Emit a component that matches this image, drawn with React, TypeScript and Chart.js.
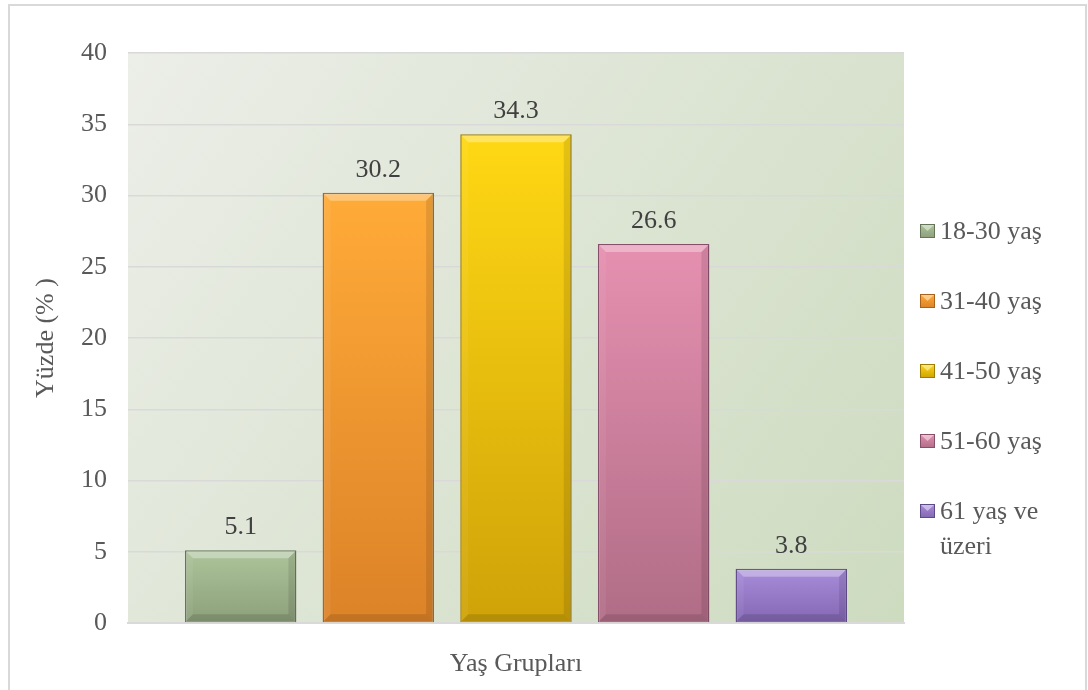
import React, { useEffect, useRef } from "react";
import { Chart, registerables } from "chart.js";

Chart.register(...registerables);

// ---- data ----
const categories = [""];
const seriesNames = ["18-30 yaş", "31-40 yaş", "41-50 yaş", "51-60 yaş", "61 yaş ve üzeri"];
const seriesValues = [5.1, 30.2, 34.3, 26.6, 3.8];
const legendLines = [["18-30 yaş"], ["31-40 yaş"], ["41-50 yaş"], ["51-60 yaş"], ["61 yaş ve", "üzeri"]];
const yMin = 0;
const yMax = 40;
const yStep = 5;
const yAxisTitle = "Yüzde (% )";
const xAxisTitle = "Yaş Grupları";

// ---- styles ----
const topColors = ["#adc59b", "#ffab38", "#ffd814", "#e690b0", "#a88dda"];
const bottomColors = ["#8c9f7a", "#dc8228", "#cfa208", "#b06d86", "#8467b3"];
const borderColors = ["#65755a", "#a8621d", "#9e7d06", "#86506a", "#5e4a86"];
const FONT = "'Liberation Serif', 'Times New Roman', serif";

const plotBg = {
  id: "plotBg",
  beforeDraw(chart: any) {
    const { ctx, chartArea: a } = chart;
    if (!a) return;
    const g = ctx.createLinearGradient(a.left, a.top, a.right, a.bottom);
    g.addColorStop(0, "#eceee8");
    g.addColorStop(1, "#cddbbf");
    ctx.save();
    ctx.fillStyle = g;
    ctx.fillRect(a.left, a.top, a.width, a.height);
    ctx.restore();
  },
};

const bevelAndLabels = {
  id: "bevelAndLabels",
  afterDatasetsDraw(chart: any) {
    const { ctx } = chart;
    ctx.save();
    chart.data.datasets.forEach((ds: any, i: number) => {
      const meta = chart.getDatasetMeta(i);
      const el = meta.data[0];
      if (!el) return;
      const { x, y, base, width } = el.getProps(["x", "y", "base", "width"], true);
      const l = x - width / 2;
      const r = x + width / 2;
      const t = y;
      const b = base;
      const bv = 8;
      // top bevel
      ctx.beginPath();
      ctx.moveTo(l + 1, t + 1);
      ctx.lineTo(r - 1, t + 1);
      ctx.lineTo(r - bv, t + bv);
      ctx.lineTo(l + bv, t + bv);
      ctx.closePath();
      ctx.fillStyle = "rgba(255,255,255,0.32)";
      ctx.fill();
      // left bevel
      ctx.beginPath();
      ctx.moveTo(l + 1, t + 1);
      ctx.lineTo(l + bv, t + bv);
      ctx.lineTo(l + bv, b - bv);
      ctx.lineTo(l + 1, b - 1);
      ctx.closePath();
      ctx.fillStyle = "rgba(255,255,255,0.06)";
      ctx.fill();
      // right bevel
      ctx.beginPath();
      ctx.moveTo(r - 1, t + 1);
      ctx.lineTo(r - bv, t + bv);
      ctx.lineTo(r - bv, b - bv);
      ctx.lineTo(r - 1, b - 1);
      ctx.closePath();
      ctx.fillStyle = "rgba(0,0,0,0.1)";
      ctx.fill();
      // bottom bevel
      ctx.beginPath();
      ctx.moveTo(l + 1, b - 1);
      ctx.lineTo(r - 1, b - 1);
      ctx.lineTo(r - bv, b - bv);
      ctx.lineTo(l + bv, b - bv);
      ctx.closePath();
      ctx.fillStyle = "rgba(0,0,0,0.12)";
      ctx.fill();
      // value label
      ctx.fillStyle = "#404040";
      ctx.font = `26px ${FONT}`;
      ctx.textAlign = "center";
      ctx.textBaseline = "alphabetic";
      ctx.fillText(Number(ds.data[0]).toFixed(1), x, t - 16);
    });
    ctx.restore();
  },
};

const sideLegend = {
  id: "sideLegend",
  afterDraw(chart: any) {
    const { ctx, chartArea: a } = chart;
    ctx.save();
    const x0 = a.right + 16;
    let baseY = a.top + 186;
    legendLines.forEach((lines, i) => {
      const bx = x0;
      const by = baseY - 15;
      const bw = 15;
      const bh = 14;
      const g = ctx.createLinearGradient(0, by, 0, by + bh);
      g.addColorStop(0, topColors[i]);
      g.addColorStop(1, bottomColors[i]);
      ctx.fillStyle = g;
      ctx.fillRect(bx, by, bw, bh);
      ctx.beginPath();
      ctx.moveTo(bx + 1, by + 1);
      ctx.lineTo(bx + bw - 1, by + 1);
      ctx.lineTo(bx + bw / 2, by + bh / 2);
      ctx.closePath();
      ctx.fillStyle = "rgba(255,255,255,0.45)";
      ctx.fill();
      ctx.strokeStyle = borderColors[i];
      ctx.lineWidth = 1;
      ctx.strokeRect(bx + 0.5, by + 0.5, bw - 1, bh - 1);
      ctx.fillStyle = "#595959";
      ctx.font = `26px ${FONT}`;
      ctx.textAlign = "left";
      ctx.textBaseline = "alphabetic";
      lines.forEach((ln, k) => {
        ctx.fillText(ln, x0 + 20, baseY + k * 35);
      });
      baseY += 70;
    });
    ctx.restore();
  },
};

export default function App() {
  const ref = useRef<HTMLCanvasElement | null>(null);

  useEffect(() => {
    if (!ref.current) return;
    const gradFor = (i: number) => (context: any) => {
      const chart = context.chart;
      const ys = chart.scales && chart.scales.y;
      if (!ys || !chart.chartArea) return topColors[i];
      const top = ys.getPixelForValue(seriesValues[i]);
      const bot = ys.getPixelForValue(0);
      const g = chart.ctx.createLinearGradient(0, top, 0, bot);
      g.addColorStop(0, topColors[i]);
      g.addColorStop(1, bottomColors[i]);
      return g;
    };
    const chart = new Chart(ref.current, {
      type: "bar",
      data: {
        labels: categories,
        datasets: seriesNames.map((name, i) => ({
          label: name,
          data: [seriesValues[i]],
          backgroundColor: gradFor(i),
          borderColor: borderColors[i],
          borderWidth: 1.5,
          categoryPercentage: 0.887,
          barPercentage: 0.81,
        })),
      },
      options: {
        responsive: false,
        animation: false,
        devicePixelRatio: 1,
        layout: { padding: { top: 53, right: 184, left: 0, bottom: 0 } },
        plugins: {
          legend: { display: false },
          tooltip: { enabled: false },
          title: { display: false },
        },
        scales: {
          x: {
            grid: { display: false },
            border: { display: true, color: "#d9d9d9", width: 2 },
            ticks: { display: false },
            title: {
              display: true,
              text: xAxisTitle,
              color: "#595959",
              font: { family: FONT, size: 26 },
              padding: { top: 0, bottom: 10 },
            },
            afterFit: (s: any) => {
              s.height = 67;
            },
          },
          y: {
            min: yMin,
            max: yMax,
            ticks: {
              stepSize: yStep,
              color: "#595959",
              font: { family: FONT, size: 26 },
              padding: 21,
            },
            grid: { color: "#d9d9d9", lineWidth: 1.5, drawTicks: false },
            border: { display: false },
            title: {
              display: true,
              text: yAxisTitle,
              color: "#595959",
              font: { family: FONT, size: 26 },
              padding: { top: 31, bottom: 0 },
            },
            afterFit: (s: any) => {
              s.width = 128;
            },
          },
        },
      },
      plugins: [plotBg, bevelAndLabels, sideLegend],
    } as any);
    return () => chart.destroy();
  }, []);

  return (
    <div
      style={{
        position: "fixed",
        left: 0,
        top: 0,
        width: 1088,
        height: 690,
        overflow: "hidden",
        background: "#ffffff",
      }}
    >
      <canvas
        ref={ref}
        width={1088}
        height={690}
        style={{ position: "absolute", left: 0, top: 0, width: 1088, height: 690 }}
      />
      <div
        style={{
          position: "absolute",
          left: 8,
          top: 4,
          width: 1079,
          height: 720,
          border: "2px solid #d9d9d9",
          boxSizing: "border-box",
          pointerEvents: "none",
        }}
      />
    </div>
  );
}
